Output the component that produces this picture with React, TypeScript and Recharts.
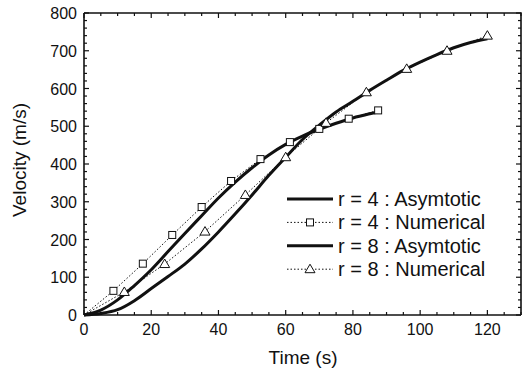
import { LineChart, Line, XAxis, YAxis, Label } from 'recharts';

// r = 4 : Numerical (squares)
const r4NumX = [0, 8.75, 17.5, 26.25, 35, 43.75, 52.5, 61.25, 70, 78.75, 87.5];
const r4NumY = [0, 64, 136, 212, 286, 355, 413, 458, 493, 520, 542];

// r = 8 : Numerical (triangles)
const r8NumX = [0, 12, 24, 36, 48, 60, 72, 84, 96, 108, 120];
const r8NumY = [0, 61, 135, 221, 318, 418, 509, 590, 652, 700, 740];

// r = 4 : Asymtotic
const r4AsyX = [0, 5, 10, 15, 20, 25, 30, 35, 40, 45, 50, 55, 60, 65, 70, 75, 80, 85, 87.5];
const r4AsyY = [0, 13, 40, 78, 120, 168, 216, 263, 310, 352, 390, 424, 452, 474, 492, 508, 522, 533, 538];

// r = 8 : Asymtotic
const r8AsyX = [0, 5, 10, 15, 20, 25, 30, 35, 40, 45, 50, 55, 60, 65, 70, 75, 80, 85, 90, 95, 100, 105, 110, 115, 120];
const r8AsyY = [0, 4, 14, 38, 70, 102, 135, 175, 220, 268, 318, 370, 418, 465, 503, 538, 566, 595, 622, 648, 670, 690, 708, 722, 732];

const xTicks = [0, 5, 10, 15, 20, 25, 30, 35, 40, 45, 50, 55, 60, 65, 70, 75, 80, 85, 90, 95, 100, 105, 110, 115, 120, 125, 130];
const yTicks = [0, 20, 40, 60, 80, 100, 120, 140, 160, 180, 200, 220, 240, 260, 280, 300, 320, 340, 360, 380, 400, 420, 440, 460, 480, 500, 520, 540, 560, 580, 600, 620, 640, 660, 680, 700, 720, 740, 760, 780, 800];

const X_MAX = 130;
const Y_MAX = 800;

const zip = (xs: number[], ys: number[]) => xs.map((x, i) => ({ x, y: ys[i] }));

const r4Num = zip(r4NumX, r4NumY);
const r8Num = zip(r8NumX, r8NumY);
const r4Asy = zip(r4AsyX, r4AsyY);
const r8Asy = zip(r8AsyX, r8AsyY);

// box frame (top + right edges) and their tick positions
const frame = [
  { x: 0, y: Y_MAX },
  { x: X_MAX, y: Y_MAX },
  { x: X_MAX, y: 0 },
];
const topTickPts = xTicks.map((t) => ({ x: t, y: Y_MAX }));
const rightTickPts = yTicks.map((t) => ({ x: X_MAX, y: t }));

const FONT = '"Liberation Sans", Arial, sans-serif';
const INK = '#111';

const legendItems = [
  { label: 'r = 4 : Asymtotic', kind: 'solid' },
  { label: 'r = 4 : Numerical', kind: 'square' },
  { label: 'r = 8 : Asymtotic', kind: 'solid' },
  { label: 'r = 8 : Numerical', kind: 'triangle' },
];

const Square = ({ cx, cy }: { cx: number; cy: number }) => (
  <rect x={cx - 3.5} y={cy - 3.5} width={7} height={7} fill="#fff" stroke={INK} strokeWidth={1} />
);

const Triangle = ({ cx, cy }: { cx: number; cy: number }) => (
  <polygon
    points={`${cx},${cy - 5} ${cx - 5},${cy + 3.5} ${cx + 5},${cy + 3.5}`}
    fill="#fff"
    stroke={INK}
    strokeWidth={1}
  />
);

const squareDot = (props: any) => {
  const { cx, cy, payload, index } = props;
  if (payload.x === 0) return <g key={index} />;
  return <Square key={index} cx={cx} cy={cy} />;
};

const triangleDot = (props: any) => {
  const { cx, cy, payload, index } = props;
  if (payload.x === 0) return <g key={index} />;
  return <Triangle key={index} cx={cx} cy={cy} />;
};

const topTickDot = (props: any) => {
  const { cx, cy, payload, index } = props;
  const len = payload.x % 20 === 0 ? 5 : 3;
  return <line key={index} x1={cx} y1={cy} x2={cx} y2={cy + len} stroke={INK} strokeWidth={1.2} />;
};

const rightTickDot = (props: any) => {
  const { cx, cy, payload, index } = props;
  const len = payload.y % 100 === 0 ? 5 : 3;
  return <line key={index} x1={cx} y1={cy} x2={cx - len} y2={cy} stroke={INK} strokeWidth={1.2} />;
};

const BottomTick = (props: any) => {
  const { x, y, payload } = props;
  const v = payload.value;
  const major = v % 20 === 0;
  return (
    <g>
      <line x1={x} y1={y} x2={x} y2={y - (major ? 5 : 3)} stroke={INK} strokeWidth={1.2} />
      {major && v <= 120 && (
        <text x={x} y={y + 20} textAnchor="middle" fontSize={16} fontFamily={FONT} fill={INK}>
          {v}
        </text>
      )}
    </g>
  );
};

const LeftTick = (props: any) => {
  const { x, y, payload } = props;
  const v = payload.value;
  const major = v % 100 === 0;
  return (
    <g>
      <line x1={x} y1={y} x2={x + (major ? 5 : 3)} y2={y} stroke={INK} strokeWidth={1.2} />
      {major && (
        <text x={x - 7} y={y + 6} textAnchor="end" fontSize={16} fontFamily={FONT} fill={INK}>
          {v}
        </text>
      )}
    </g>
  );
};

const LegendBox = () => (
  <svg width={230} height={95} style={{ overflow: 'visible', display: 'block' }}>
    {legendItems.map((it, i) => {
      const cy = 11 + i * 23.4;
      return (
        <g key={it.label}>
          {it.kind === 'solid' ? (
            <line x1={2} y1={cy} x2={48} y2={cy} stroke={INK} strokeWidth={3} />
          ) : (
            <g>
              <line x1={2} y1={cy} x2={48} y2={cy} stroke={INK} strokeWidth={1} strokeDasharray="1.5 2" />
              {it.kind === 'square' ? <Square cx={25} cy={cy} /> : <Triangle cx={25} cy={cy} />}
            </g>
          )}
          <text x={53} y={cy + 7} fontSize={20} fontFamily={FONT} fill={INK}>
            {it.label}
          </text>
        </g>
      );
    })}
  </svg>
);

export default function App() {
  return (
    <div style={{ position: 'absolute', left: 0, top: 0, width: 522, height: 369, background: '#fff' }}>
      <LineChart width={522} height={369} margin={{ top: 13, right: 1, left: 0, bottom: 0 }}>
        <XAxis
          dataKey="x"
          type="number"
          domain={[0, X_MAX]}
          ticks={xTicks}
          interval={0}
          height={54}
          tick={BottomTick}
          tickLine={false}
          tickSize={0}
          tickMargin={0}
          axisLine={{ stroke: INK, strokeWidth: 1.6 }}
        >
          <Label
            content={() => (
              <text x={303} y={364} textAnchor="middle" fontSize={19} fontFamily={FONT} fill={INK}>
                Time (s)
              </text>
            )}
          />
        </XAxis>
        <YAxis
          type="number"
          domain={[0, Y_MAX]}
          ticks={yTicks}
          interval={0}
          width={84}
          tick={LeftTick}
          tickLine={false}
          tickSize={0}
          tickMargin={0}
          axisLine={{ stroke: INK, strokeWidth: 1.6 }}
        >
          <Label
            content={() => (
              <text
                x={26}
                y={160}
                transform="rotate(-90 26 160)"
                textAnchor="middle"
                fontSize={19}
                fontFamily={FONT}
                fill={INK}
              >
                Velocity (m/s)
              </text>
            )}
          />
        </YAxis>
        <Line
          data={frame}
          dataKey="y"
          type="linear"
          stroke={INK}
          strokeWidth={1.6}
          dot={false}
          activeDot={false}
          isAnimationActive={false}
        />
        <Line
          data={topTickPts}
          dataKey="y"
          stroke="none"
          dot={topTickDot}
          activeDot={false}
          isAnimationActive={false}
        />
        <Line
          data={rightTickPts}
          dataKey="y"
          stroke="none"
          dot={rightTickDot}
          activeDot={false}
          isAnimationActive={false}
        />
        <Line
          data={r4Asy}
          dataKey="y"
          type="monotone"
          stroke={INK}
          strokeWidth={3}
          dot={false}
          isAnimationActive={false}
        />
        <Line
          data={r8Asy}
          dataKey="y"
          type="monotone"
          stroke={INK}
          strokeWidth={3}
          dot={false}
          isAnimationActive={false}
        />
        <Line
          data={r4Num}
          dataKey="y"
          type="linear"
          stroke={INK}
          strokeWidth={1}
          strokeDasharray="1.5 2"
          dot={squareDot}
          isAnimationActive={false}
        />
        <Line
          data={r8Num}
          dataKey="y"
          type="linear"
          stroke={INK}
          strokeWidth={1}
          strokeDasharray="1.5 2"
          dot={triangleDot}
          isAnimationActive={false}
        />
      </LineChart>
      <div style={{ position: 'absolute', left: 285, top: 188 }}>
        <LegendBox />
      </div>
    </div>
  );
}
